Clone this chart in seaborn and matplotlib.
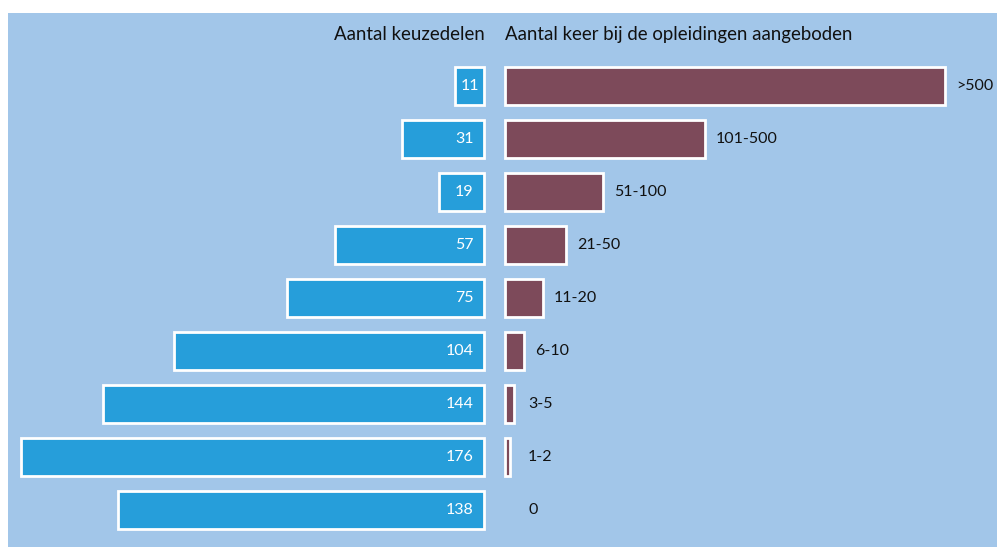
import numpy as np
import pandas as pd
import matplotlib
matplotlib.use("Agg")
import matplotlib.pyplot as plt
from matplotlib.patches import Rectangle
import seaborn as sns

# ── data ─────────────────────────────────────────────────────────────────────
categories = [">500", "101-500", "51-100", "21-50", "11-20", "6-10", "3-5", "1-2", "0"]
n_keuzedelen = [11, 31, 19, 57, 75, 104, 144, 176, 138]          # printed labels
bar_keuzedelen = [11, 31, 17, 56.5, 75, 118, 145, 176, 139]      # drawn bar lengths (as in picture)
# relative bar length on the right (no axis shown)
aangeboden = [440, 200, 98, 61, 38, 19, 9, 5, 0]

df = pd.DataFrame({"cat": categories, "bar": bar_keuzedelen, "aangeboden": aangeboden})

# ── style ────────────────────────────────────────────────────────────────────
sns.set_style("white")
plt.rcParams["font.family"] = ["Lato", "DejaVu Sans"]

BG = "#a2c6e9"
BLUE = "#269eda"
MAROON = "#7d4a5a"

W, H = 997, 547
fig = plt.figure(figsize=(W / 100, H / 100), dpi=100, facecolor="white")
fig.patches.append(Rectangle((8 / W, 0), 989 / W, 534 / H, transform=fig.transFigure,
                             facecolor=BG, edgecolor="none", zorder=-10))

# vertical layout: row spacing 53 px, first row centre at 86.3 px from top
top_px, bot_px = 13, 547
row = 53.0
y_top = -(86.3 - top_px) / row
y_bot = y_top + (bot_px - top_px) / row
ax_b, ax_h = 0, (bot_px - top_px) / H

px_per_unit = 2.63
left_w = 476
axL = fig.add_axes([8 / W, ax_b, left_w / W, ax_h])
axR = fig.add_axes([505 / W, ax_b, 491 / W, ax_h])

sns.barplot(data=df, x="bar", y="cat", orient="h", color=BLUE, saturation=1,
            edgecolor="white", linewidth=2, width=0.71, ax=axL)
sns.barplot(data=df, x="aangeboden", y="cat", orient="h", color=MAROON, saturation=1,
            edgecolor="white", linewidth=2, width=0.71, ax=axR)

axL.set_xlim(left_w / px_per_unit, 0)
axR.set_xlim(0, 491)
for ax in (axL, axR):
    ax.set_ylim(y_bot, y_top)
    ax.set_facecolor("none")
    ax.set_axis_off()
    for p in ax.patches:
        p.set_clip_on(False)
        if p.get_width() == 0:
            p.set_visible(False)

# value labels inside the blue bars
for i, (lab, b) in enumerate(zip(n_keuzedelen, bar_keuzedelen)):
    if b * px_per_unit < 40:
        axL.annotate(str(lab), xy=(b / 2, i), ha="center", va="center",
                     color="white", fontsize=11.5)
    else:
        axL.annotate(str(lab), xy=(0, i), xytext=(-7.7, 0), textcoords="offset points",
                     ha="right", va="center", color="white", fontsize=11.5)

# category labels right of the maroon bars
for i, (c, v) in enumerate(zip(categories, aangeboden)):
    axR.annotate(c, xy=(max(v, 12), i), xytext=(8, 0), textcoords="offset points",
                 ha="left", va="center", color="#111111", fontsize=11.5)

# headers
fig.text(485 / W, 1 - 40 / H, "Aantal keuzedelen", ha="right", va="baseline",
         fontsize=13.4, color="#111111")
fig.text(505 / W, 1 - 40 / H, "Aantal keer bij de opleidingen aangeboden", ha="left",
         va="baseline", fontsize=13.4, color="#111111")

fig.savefig("out.png", dpi=100, facecolor="white")
